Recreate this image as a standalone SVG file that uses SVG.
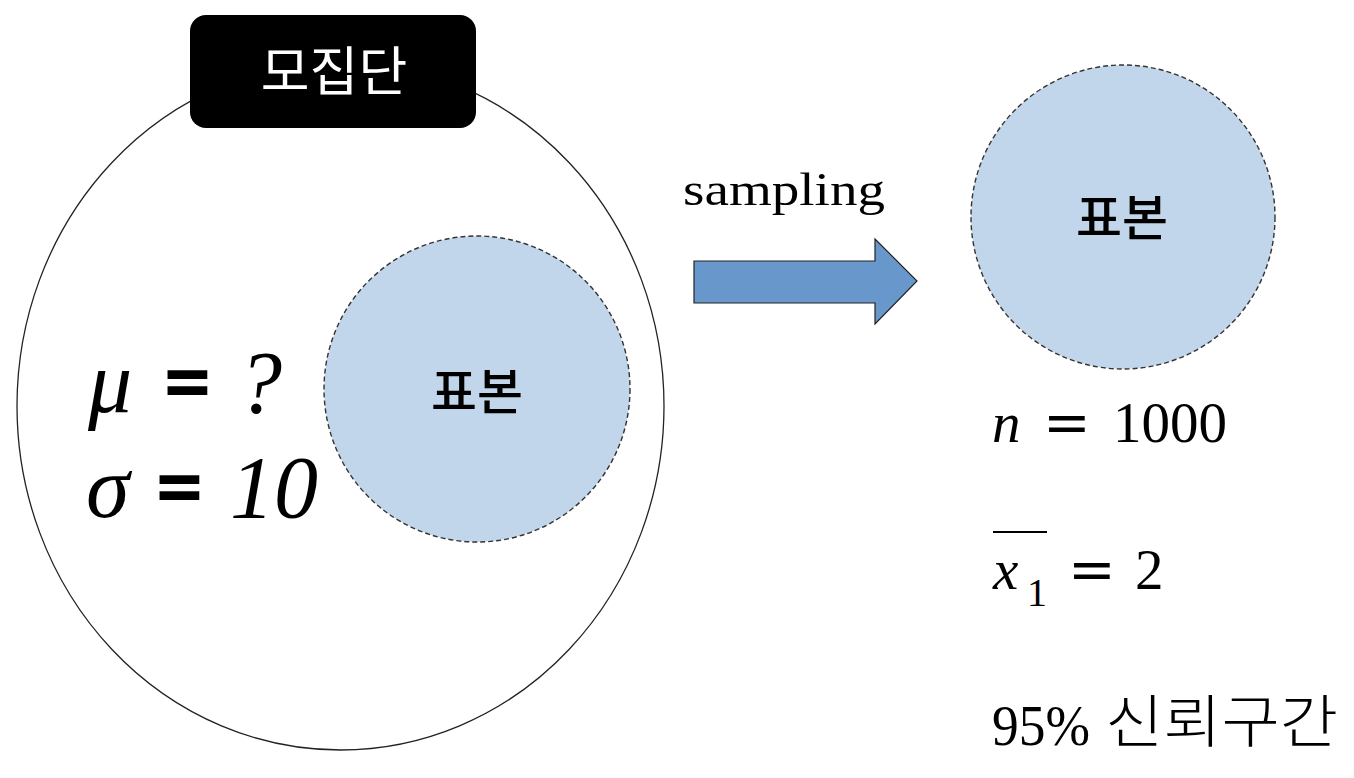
<svg xmlns="http://www.w3.org/2000/svg" width="1354" height="778" viewBox="0 0 1354 778">
<style>
.sample{fill:#c2d6eb;stroke:#333;stroke-width:1.4;stroke-dasharray:5 3}
.kor{font-family:"Noto Sans CJK KR","Noto Sans",sans-serif;font-weight:500}
.mathi{font-family:"Liberation Serif","Noto Serif",serif;font-style:italic;fill:#000}
.eqb{font-family:"Open Sans","DejaVu Sans",sans-serif;font-weight:bold;fill:#000}
.cm{font-family:"Liberation Serif","DejaVu Serif",serif;fill:#000}
.cmeq{font-family:"DejaVu Serif",serif;fill:#000}
</style>
<rect width="1354" height="778" fill="#fff"/>
<g id="population">
  <ellipse cx="340.5" cy="406" rx="323.5" ry="344" fill="#fff" stroke="#222" stroke-width="1.3"/>
  <g id="population-label">
    <rect x="190" y="15" width="286" height="113" rx="16" fill="#000"/>
    <text x="334" y="91" text-anchor="middle" style="font-family:'Noto Sans CJK KR',sans-serif;font-weight:400" font-size="53" fill="#fff">모집단</text>
  </g>
  <g id="params">
    <text class="mathi" x="88" y="412" font-size="88">μ</text>
    <text class="eqb" x="164" y="412" font-size="82">=</text>
    <text class="mathi" x="238" y="412" font-size="88">?</text>
    <text class="mathi" x="86" y="517" font-size="88">σ</text>
    <text class="eqb" x="156" y="517" font-size="82">=</text>
    <text class="mathi" x="230" y="517" font-size="88">10</text>
  </g>
</g>
<g id="sample-inner">
  <circle class="sample" cx="477" cy="389" r="153"/>
  <text x="477" y="410" text-anchor="middle" class="kor" font-size="50">표본</text>
</g>
<g id="connectors">
  <polygon points="694,261 875,261 875,239 917,281 875,324 875,303 694,303" fill="#6898cb" stroke="#222" stroke-width="1.2"/>
  <text x="683" y="205" class="cm" font-size="46" textLength="202" lengthAdjust="spacingAndGlyphs">sampling</text>
</g>
<g id="sample-outer">
  <circle class="sample" cx="1123" cy="217" r="152"/>
  <text x="1122" y="236" text-anchor="middle" class="kor" font-size="50">표본</text>
</g>
<g id="stats">
  <text class="cm" x="992" y="442" font-size="57" font-style="italic">n</text>
  <text class="cmeq" x="1043" y="442" font-size="57">=</text>
  <text class="cm" x="1113" y="442" font-size="57">1000</text>
  <line x1="993" y1="532" x2="1047" y2="532" stroke="#000" stroke-width="2"/>
  <text class="cm" x="993" y="589" font-size="57" font-style="italic">x</text>
  <text class="cm" x="1027" y="606" font-size="40">1</text>
  <text class="cmeq" x="1068" y="589" font-size="57">=</text>
  <text class="cm" x="1135" y="589" font-size="57">2</text>
  <text class="cm" x="992" y="745" font-size="57" textLength="98" lengthAdjust="spacingAndGlyphs">95%</text>
  <text x="1105" y="742" style="font-family:'Noto Sans CJK KR',sans-serif;font-weight:300" font-size="57" textLength="233" lengthAdjust="spacingAndGlyphs">신뢰구간</text>
</g>
</svg>
